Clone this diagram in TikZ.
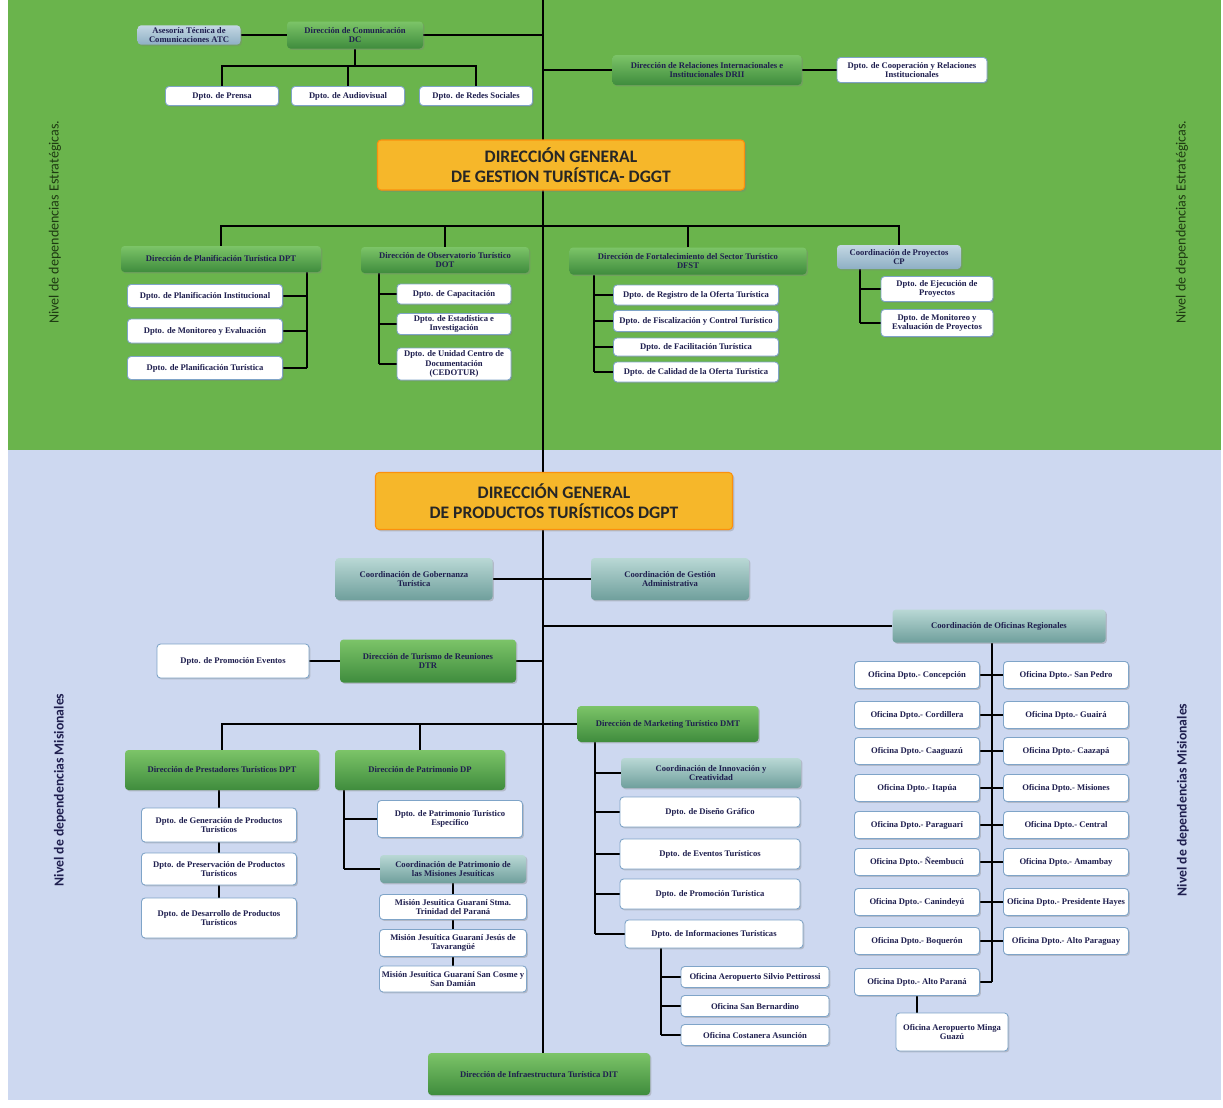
\documentclass[tikz,border=0pt]{standalone}
\usepackage{fontspec}
\setmainfont{Liberation Serif}
\newfontfamily\sidefont{Carlito}
\usetikzlibrary{shadows}
\pgfdeclarelayer{bg}
\pgfdeclarelayer{wires}
\pgfsetlayers{bg,wires,main}

\definecolor{stratgreen}{HTML}{6AB44C}
\definecolor{misblue}{HTML}{CDD8F0}
\definecolor{dirgreenA}{HTML}{7CC468}
\definecolor{dirgreenB}{HTML}{3F8C3D}
\definecolor{coordA}{HTML}{B9D8D5}
\definecolor{coordB}{HTML}{6F9F9C}
\definecolor{greyblueA}{HTML}{C3D7E3}
\definecolor{greyblueB}{HTML}{8EAFC4}
\definecolor{boxedge}{HTML}{7FA4C8}
\definecolor{gold}{HTML}{F6B72A}
\definecolor{navytext}{HTML}{1F1F4F}
\definecolor{labelgreen}{HTML}{1E3A12}

\tikzset{
  base/.style={font=\fontsize{4.9}{5.5}\selectfont\bfseries, text=navytext,
    align=center, inner sep=1pt, rounded corners=2pt,
    drop shadow={opacity=0.35, shadow xshift=0.8pt, shadow yshift=-0.8pt}},
  sz/.style 2 args={minimum width=#1*0.02cm, minimum height=#2*0.02cm},
  dept/.style={base, fill=white, draw=boxedge, line width=0.5pt},
  dirbox/.style={base, top color=dirgreenA, bottom color=dirgreenB},
  coordbox/.style={base, top color=coordA, bottom color=coordB},
  advbox/.style={base, top color=greyblueA, bottom color=greyblueB},
  genbox/.style={fill=gold, draw=orange!70!gold, line width=0.6pt, rounded corners=2pt,
    text=black!85, align=center,
    font=\sidefont\bfseries\fontsize{10}{11.5}\selectfont,
    drop shadow={opacity=0.35, shadow xshift=1pt, shadow yshift=-1pt}},
  wire/.style={line width=1.5pt, black},
  sidelabel/.style={rotate=90, text=labelgreen, font=\sidefont\fontsize{8}{9.5}\selectfont},
}

\begin{document}
\begin{tikzpicture}[x=0.02cm, y=-0.02cm]
  \useasboundingbox (0,0) rectangle (1223,1107);
  \begin{pgfonlayer}{bg}
    \fill[stratgreen] (8,0) rectangle (1221,450);
    \fill[misblue] (8,450) rectangle (1221,1100);
  \end{pgfonlayer}

  % strategic level
  \node[advbox, sz={103}{19}] (atc) at (189,35) {Asesoría Técnica de\\Comunicaciones ATC};
  \node[dirbox, sz={136}{27}] (dc) at (355,35) {Dirección de Comunicación\\DC};
  \node[dept, sz={113}{19}] (prensa) at (222,96) {Dpto. de Prensa};
  \node[dept, sz={113}{19}] (audio) at (348,96) {Dpto. de Audiovisual};
  \node[dept, sz={113}{19}] (redes) at (476,96) {Dpto. de Redes Sociales};
  \node[dirbox, sz={189}{30}] (drii) at (707,70) {Dirección de Relaciones Internacionales e\\Institucionales DRII};
  \node[dept, sz={150}{25}] (coop) at (912,70) {Dpto. de Cooperación y Relaciones\\Institucionales};
  \node[genbox, sz={367}{50}] (dggt) at (561,165) {DIRECCIÓN GENERAL\\DE GESTION TURÍSTICA- DGGT};

  \node[dirbox, sz={200}{26}] (dplan) at (221,259) {Dirección de Planificación Turística DPT};
  \node[dept, sz={155}{23}] (plinst) at (205,296) {Dpto. de Planificación Institucional};
  \node[dept, sz={155}{24}] (moneval) at (205,331) {Dpto. de Monitoreo y Evaluación};
  \node[dept, sz={155}{23}] (pltur) at (205,368) {Dpto. de Planificación Turística};
  \node[dirbox, sz={168}{26}] (dot) at (445,260) {Dirección de Observatorio Turístico\\DOT};
  \node[dept, sz={114}{20}] (capac) at (454,294) {Dpto. de Capacitación};
  \node[dept, sz={114}{21}] (estad) at (454,324) {Dpto. de Estadística e\\Investigación};
  \node[dept, sz={114}{32}] (cedo) at (454,364) {Dpto. de Unidad Centro de\\Documentación\\(CEDOTUR)};
  \node[dirbox, sz={237}{27}] (dfst) at (688,261) {Dirección de Fortalecimiento del Sector Turístico\\DFST};
  \node[dept, sz={165}{20}] (regof) at (696,295) {Dpto. de Registro de la Oferta Turística};
  \node[dept, sz={165}{21}] (fiscal) at (696,321) {Dpto. de Fiscalización y Control Turístico};
  \node[dept, sz={165}{18}] (facil) at (696,347) {Dpto. de Facilitación Turística};
  \node[dept, sz={165}{20}] (calid) at (696,372) {Dpto. de Calidad de la Oferta Turística};
  \node[advbox, sz={124}{24}] (cp) at (899,257) {Coordinación de Proyectos\\CP};
  \node[dept, sz={112}{25}] (ejec) at (937,289) {Dpto. de Ejecución de\\Proyectos};
  \node[dept, sz={112}{27}] (monproy) at (937,323) {Dpto. de Monitoreo y\\Evaluación de Proyectos};

  % missional level
  \node[genbox, sz={357}{57}] (dgpt) at (554,501) {DIRECCIÓN GENERAL\\DE PRODUCTOS TURÍSTICOS DGPT};
  \node[coordbox, sz={157}{42}] (gob) at (414,579) {Coordinación de Gobernanza\\Turística};
  \node[coordbox, sz={158}{42}] (gest) at (670,579) {Coordinación de Gestión\\Administrativa};
  \node[coordbox, sz={213}{33}] (ofreg) at (999,626) {Coordinación de Oficinas Regionales};
  \node[dept, sz={152}{34}] (promev) at (233,661) {Dpto. de Promoción Eventos};
  \node[dirbox, sz={176}{43}] (dtr) at (428,661) {Dirección de Turismo de Reuniones\\DTR};
  \node[dirbox, sz={181}{36}] (dmt) at (668,724) {Dirección de Marketing Turístico DMT};

  \node[dirbox, sz={194}{40}] (dprest) at (222,770) {Dirección de Prestadores Turísticos DPT};
  \node[dept, sz={155}{34}] (genprod) at (219,825) {Dpto. de Generación de Productos\\Turísticos};
  \node[dept, sz={155}{32}] (presprod) at (219,869) {Dpto. de Preservación de Productos\\Turísticos};
  \node[dept, sz={155}{40}] (desprod) at (219,918) {Dpto. de Desarrollo de Productos\\Turísticos};
  \node[dirbox, sz={170}{40}] (dpat) at (420,770) {Dirección de Patrimonio DP};
  \node[dept, sz={145}{37}] (patesp) at (450,819) {Dpto. de Patrimonio Turístico\\Específico};
  \node[coordbox, sz={146}{28}] (cmj) at (453,869) {Coordinación de Patrimonio de\\las Misiones Jesuíticas};
  \node[dept, sz={147}{25}] (trinidad) at (453,907) {Misión Jesuítica Guaraní Stma.\\Trinidad del Paraná};
  \node[dept, sz={147}{27}] (jesus) at (453,943) {Misión Jesuítica Guaraní Jesús de\\Tavarangüé};
  \node[dept, sz={147}{26}] (cosme) at (453,979) {Misión Jesuítica Guaraní San Cosme y\\San Damián};

  \node[coordbox, sz={180}{30}] (innov) at (711,773) {Coordinación de Innovación y\\Creatividad};
  \node[dept, sz={180}{30}] (diseno) at (710,812) {Dpto. de Diseño Gráfico};
  \node[dept, sz={180}{30}] (evtur) at (710,854) {Dpto. de Eventos Turísticos};
  \node[dept, sz={180}{30}] (promtur) at (710,894) {Dpto. de Promoción Turística};
  \node[dept, sz={178}{28}] (infotur) at (714,934) {Dpto. de Informaciones Turísticas};
  \node[dept, sz={148}{21}] (ofaero) at (755,977) {Oficina Aeropuerto Silvio Pettirossi};
  \node[dept, sz={148}{21}] (ofsanber) at (755,1006) {Oficina San Bernardino};
  \node[dept, sz={148}{21}] (ofcost) at (755,1035) {Oficina Costanera Asunción};

  % regional offices
  \foreach \dep/\yy [count=\i] in {Concepción/675, Cordillera/715, Caaguazú/751, Itapúa/788,
      Paraguarí/825, Ñeembucú/862, Canindeyú/902, Boquerón/941, Alto Paraná/982}
    \node[dept, sz={125}{27}] (orl\i) at (917,\yy) {Oficina Dpto.- \dep};
  \foreach \dep/\yy [count=\i] in {San Pedro/675, Guairá/715, Caazapá/751, Misiones/788,
      Central/825, Amambay/862, Presidente Hayes/902, Alto Paraguay/941}
    \node[dept, sz={125}{27}] (orr\i) at (1066,\yy) {Oficina Dpto.- \dep};
  \node[dept, sz={112}{38}] (minga) at (952,1032) {Oficina Aeropuerto Minga\\Guazú};
  \node[dirbox, sz={222}{42}] (dit) at (539,1074) {Dirección de Infraestructura Turística DIT};

  % side labels
  \node[sidelabel] (lblstl) at (55,222) {Nivel de dependencias Estratégicas.};
  \node[sidelabel] (lblstr) at (1182,222) {Nivel de dependencias Estratégicas.};
  \node[sidelabel, text=navytext, font=\sidefont\bfseries\fontsize{7.8}{9}\selectfont] (lblmisl) at (60,790) {Nivel de dependencias Misionales};
  \node[sidelabel, text=navytext, font=\sidefont\bfseries\fontsize{7.8}{9}\selectfont] (lblmisr) at (1183,800) {Nivel de dependencias Misionales};

  \begin{pgfonlayer}{wires}
    \coordinate (top) at (543,0);
    \draw[wire] (top) -- (top |- dit.north);
    \draw[wire] (atc) -- (dc);
    \draw[wire] (dc.east) -- (dc.east -| top);
    \coordinate (dcbus) at (0,66);
    \draw[wire] (dc.south) -- (dc.south |- dcbus);
    \draw[wire] (prensa.north) -- (prensa.north |- dcbus) -- (redes.north |- dcbus) -- (redes.north);
    \draw[wire] (audio.north) -- (audio.north |- dcbus);
    \draw[wire] (drii.west) -- (drii.west -| top);
    \draw[wire] (drii) -- (coop);

    \coordinate (gbus) at (0,226);
    \draw[wire] (dplan.north) -- (dplan.north |- gbus) -- (cp.north |- gbus) -- (cp.north);
    \draw[wire] (dot.north) -- (dot.north |- gbus);
    \draw[wire] (dfst.north) -- (dfst.north |- gbus);

    \coordinate (plantr) at (307,0);
    \draw[wire] (dplan.south -| plantr) -- (pltur.east -| plantr);
    \foreach \n in {plinst,moneval,pltur}
      \draw[wire] (\n.east) -- (\n.east -| plantr);
    \coordinate (obstr) at (379,0);
    \draw[wire] (dot.south -| obstr) -- (cedo.west -| obstr);
    \foreach \n in {capac,estad,cedo}
      \draw[wire] (\n.west) -- (\n.west -| obstr);
    \coordinate (fortr) at (594,0);
    \draw[wire] (dfst.south -| fortr) -- (calid.west -| fortr);
    \foreach \n in {regof,fiscal,facil,calid}
      \draw[wire] (\n.west) -- (\n.west -| fortr);
    \coordinate (cptr) at (860,0);
    \draw[wire] (cp.south -| cptr) -- (monproy.west -| cptr);
    \foreach \n in {ejec,monproy}
      \draw[wire] (\n.west) -- (\n.west -| cptr);

    \draw[wire] (gob) -- (gest);
    \draw[wire] (ofreg.west) -- (ofreg.west -| top);
    \draw[wire] (promev) -- (dtr);
    \draw[wire] (dtr.east) -- (dtr.east -| top);
    \draw[wire] (dprest.north) |- (dmt.west);
    \draw[wire] (dpat.north) -- (dpat.north |- dmt.west);

    \draw[wire] (genprod.north) -- (genprod.north |- dprest.south);
    \draw[wire] (genprod.south) -- (presprod.north);
    \draw[wire] (presprod.south) -- (desprod.north);
    \coordinate (pattr) at (344,0);
    \draw[wire] (dpat.south -| pattr) -- (cmj.west -| pattr);
    \foreach \n in {patesp,cmj}
      \draw[wire] (\n.west) -- (\n.west -| pattr);
    \draw[wire] (cmj.south) -- (trinidad.north);
    \draw[wire] (trinidad.south) -- (jesus.north);
    \draw[wire] (jesus.south) -- (cosme.north);

    \coordinate (mkttr) at (595,0);
    \draw[wire] (dmt.south -| mkttr) -- (infotur.west -| mkttr);
    \foreach \n in {innov,diseno,evtur,promtur,infotur}
      \draw[wire] (\n.west) -- (\n.west -| mkttr);
    \coordinate (infotr) at (661,0);
    \draw[wire] (infotur.south -| infotr) -- (ofcost.west -| infotr);
    \foreach \n in {ofaero,ofsanber,ofcost}
      \draw[wire] (\n.west) -- (\n.west -| infotr);

    \coordinate (regtr) at (992,0);
    \draw[wire] (ofreg.south -| regtr) -- (orl9.east -| regtr);
    \foreach \i in {1,...,8}
      \draw[wire] (orl\i.east) -- (orr\i.west);
    \draw[wire] (orl9.east) -- (orl9.east -| regtr);
    \draw[wire] (orl9.south) -- (orl9.south |- minga.north);
  \end{pgfonlayer}
\end{tikzpicture}
\end{document}
